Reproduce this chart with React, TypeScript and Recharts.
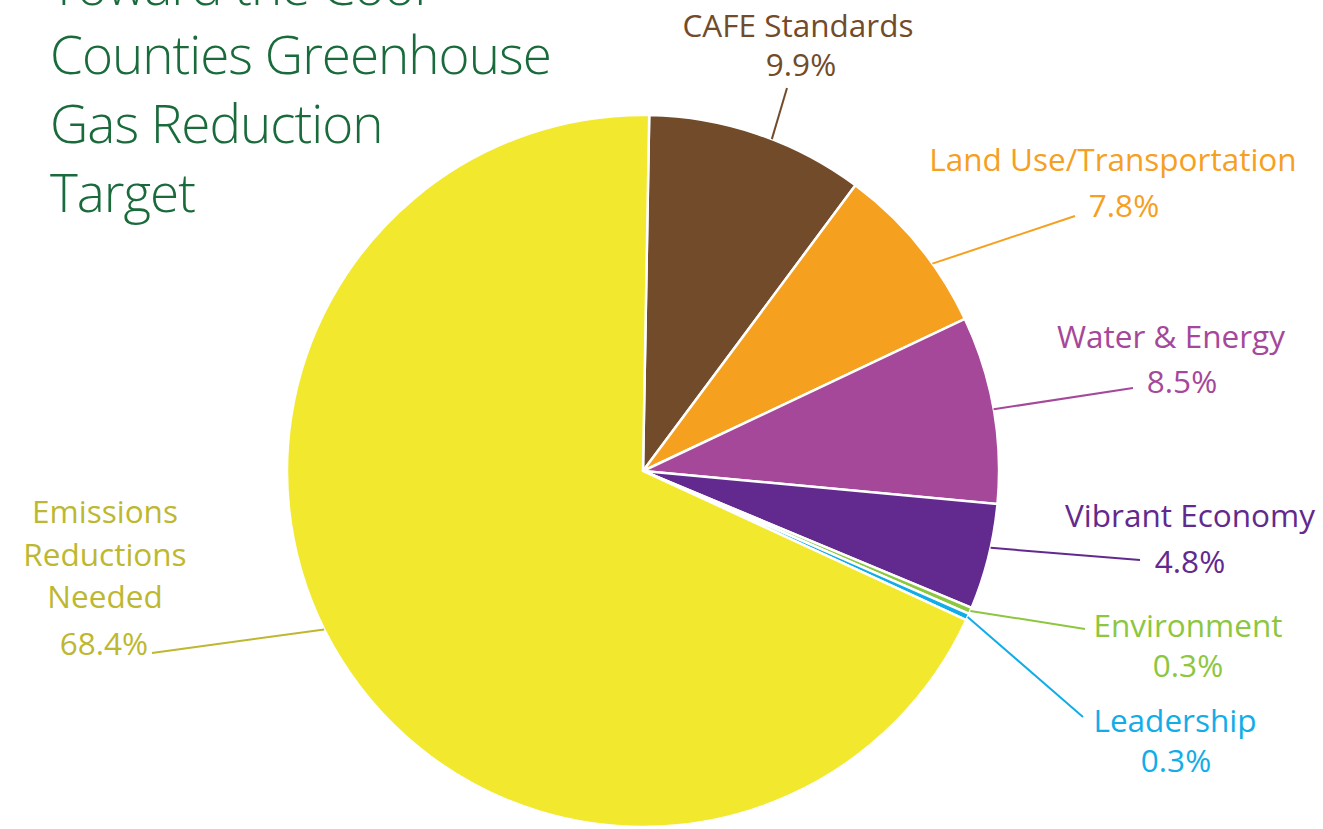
import React from 'react';
import { PieChart, Pie, Cell } from 'recharts';

const categories = [
  'CAFE Standards',
  'Land Use/Transportation',
  'Water & Energy',
  'Vibrant Economy',
  'Environment',
  'Leadership',
  'Emissions Reductions Needed',
];
const shares = [9.9, 7.8, 8.5, 4.8, 0.3, 0.3, 68.4];
const sliceColors = ['#724b2a', '#f5a01f', '#a6489a', '#62298e', '#8dc63f', '#12ade8', '#f2e92e'];
const labelColors = ['#724b2a', '#f5a01f', '#a6489a', '#62298e', '#8dc63f', '#12ade8', '#bdb82f'];
const labelLines = [
  ['CAFE Standards'],
  ['Land Use/Transportation'],
  ['Water & Energy'],
  ['Vibrant Economy'],
  ['Environment'],
  ['Leadership'],
  ['Emissions', 'Reductions', 'Needed'],
];
const titleLines = ['Toward the Cool', 'Counties Greenhouse', 'Gas Reduction', 'Target'];

const data = categories.map((name, i) => ({ name, value: shares[i] }));

// label placement is hand made in the original, so keep it here
const labelLayout = [
  { x: 798, y: 37, px: 801, py: 76, endX: 787, endY: 88, shift: -2.4 },
  { x: 1113, y: 171, px: 1124, py: 217, endX: 1075, endY: 216, shift: -3.7 },
  { x: 1171, y: 348, px: 1182, py: 393, endX: 1133, endY: 388, shift: 0 },
  { x: 1190, y: 527, px: 1190, py: 573, endX: 1140, endY: 560, shift: 1.5 },
  { x: 1188, y: 637, px: 1188, py: 677, endX: 1085, endY: 629, shift: 0 },
  { x: 1175, y: 732, px: 1176, py: 772, endX: 1083, endY: 717, shift: 0 },
  { x: 105, y: 523, px: 104, py: 655, endX: 152, endY: 653, shift: -5.7 },
];

const FONT = '"Open Sans", sans-serif';
const LINE = 42.5;
const RAD = Math.PI / 180;

const renderLabel = (props: any) => {
  const { cx, cy, outerRadius, midAngle, index } = props;
  const lay = labelLayout[index];
  const color = labelColors[index];
  const a = (midAngle + lay.shift) * RAD;
  const sx = cx + outerRadius * Math.cos(a);
  const sy = cy - outerRadius * Math.sin(a);
  const lines = labelLines[index];
  const pct = shares[index].toFixed(1) + '%';
  return (
    <g key={`lbl-${index}`}>
      <line x1={sx} y1={sy} x2={lay.endX} y2={lay.endY} stroke={color} strokeWidth={2} />
      <text fill={color} fontFamily={FONT} fontSize={31.5} textAnchor="middle">
        {lines.map((t, i) => (
          <tspan key={i} x={lay.x} y={lay.y + i * LINE}>{t}</tspan>
        ))}
        <tspan x={lay.px} y={lay.py}>{pct}</tspan>
      </text>
    </g>
  );
};

export default function App() {
  return (
    <div style={{ position: 'absolute', left: 0, top: 0, width: 1323, height: 829, background: '#fff', overflow: 'hidden' }}>
      <PieChart width={1323} height={829} margin={{ top: 0, right: 0, bottom: 0, left: 0 }}>
        <Pie
          data={data}
          dataKey="value"
          nameKey="name"
          cx={643}
          cy={471}
          outerRadius={356}
          startAngle={89}
          endAngle={-271}
          stroke="#ffffff"
          strokeWidth={2.5}
          label={renderLabel}
          labelLine={false}
          isAnimationActive={false}
        >
          {data.map((entry, i) => (
            <Cell key={`cell-${i}`} fill={sliceColors[i]} />
          ))}
        </Pie>
      </PieChart>
      <svg width={620} height={240} style={{ position: 'absolute', left: 0, top: 0, pointerEvents: 'none' }}>
        {titleLines.map((t, i) => (
          <text key={t} x={50} y={5 + i * 69} fill="#1a6b3c" fontFamily={FONT} fontWeight={300} fontSize={53} letterSpacing={-1}>
            {t}
          </text>
        ))}
      </svg>
    </div>
  );
}
